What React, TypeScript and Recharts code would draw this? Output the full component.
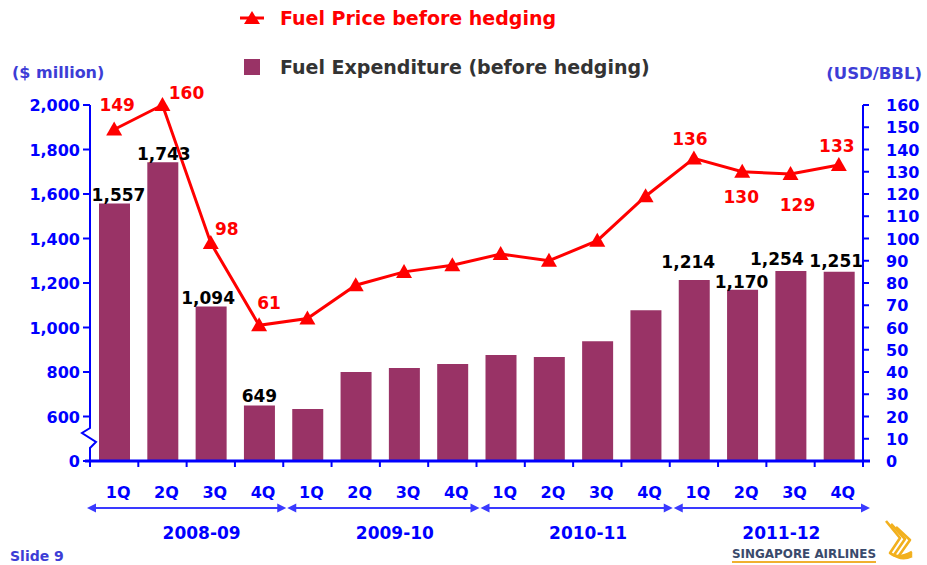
import { ComposedChart, Bar, Line, XAxis, YAxis, LabelList } from 'recharts'

const quarters = ['1Q', '2Q', '3Q', '4Q', '1Q', '2Q', '3Q', '4Q', '1Q', '2Q', '3Q', '4Q', '1Q', '2Q', '3Q', '4Q']
const fiscalYears = ['2008-09', '2009-10', '2010-11', '2011-12']
const expenditure = [1557, 1743, 1094, 649, 634, 800, 818, 836, 876, 867, 938, 1078, 1214, 1170, 1254, 1251]
const fuelPrice = [149, 160, 98, 61, 64, 79, 85, 88, 93, 90, 99, 119, 136, 130, 129, 133]
const labelled = [true, true, true, true, false, false, false, false, false, false, false, false, true, true, true, true]
const expenditureTicks = [0, 600, 800, 1000, 1200, 1400, 1600, 1800, 2000]
const priceTicks = [0, 10, 20, 30, 40, 50, 60, 70, 80, 90, 100, 110, 120, 130, 140, 150, 160]
const priceName = 'Fuel Price before hedging'
const expenditureName = 'Fuel Expenditure (before hedging)'

// left axis is broken between 0 and 600: the "0" tick sits where 400 would be
const BREAK_FLOOR = 400

const W = 927
const H = 565
const PLOT_LEFT = 90
const PLOT_RIGHT = 863
const PLOT_TOP = 105
const PLOT_BOTTOM = 461
const BAND = (PLOT_RIGHT - PLOT_LEFT) / quarters.length

const BLUE = '#0000ff'
const SOFT_BLUE = '#3d3dd6'
const RED = '#ff0000'
const PLUM = '#993366'
const FONT = '"DejaVu Sans", Verdana, sans-serif'

const data = quarters.map((q, i) => ({
  quarter: q,
  expenditure: expenditure[i],
  price: fuelPrice[i],
}))

const barLabelShift: Record<number, [number, number]> = {
  0: [4, -3], 1: [1, -2], 2: [-3, -3], 3: [0, -4],
  12: [-6, -12], 13: [-1, -2], 14: [-14, -6], 15: [-3, -5],
}
const priceLabelShift: Record<number, [number, number]> = {
  0: [3, -18], 1: [24, -6], 2: [16, -8], 3: [10, -16],
  12: [-4, -13], 13: [-1, 31], 14: [7, 37], 15: [-2, -13],
}

const ExpenditureTick = ({ x, y, payload }: any) => {
  const v = payload.value
  const text = v === BREAK_FLOOR ? '0' : v.toLocaleString('en-US')
  return (
    <g>
      <text x={x} y={y} dy={6} textAnchor="end" fill={BLUE} fontSize={16} fontWeight="bold" fontFamily={FONT}>
        {text}
      </text>
      {v === BREAK_FLOOR && (
        <g>
          <rect x={PLOT_LEFT - 3} y={y - 34} width={6} height={22} fill="#fff" />
          <polyline
            points={`${PLOT_LEFT},${y - 34} ${PLOT_LEFT},${y - 33} ${PLOT_LEFT - 8},${y - 28} ${PLOT_LEFT + 6},${y - 19} ${PLOT_LEFT},${y - 13} ${PLOT_LEFT},${y - 11}`}
            fill="none"
            stroke={BLUE}
            strokeWidth={2}
          />
        </g>
      )}
    </g>
  )
}

const PriceTick = ({ x, y, payload }: any) => (
  <text x={x} y={y} dy={6} textAnchor="start" fill={BLUE} fontSize={16} fontWeight="bold" fontFamily={FONT}>
    {payload.value}
  </text>
)

const QuarterTick = ({ x, payload, index }: any) => {
  const i = payload?.index ?? index
  const left = x - BAND / 2
  const g = Math.floor(i / 4)
  let group = null
  if (i % 4 === 0) {
    const end = left + BAND * 4
    const x1 = left + (g === 0 ? -3 : 4)
    const x2 = end + (g === fiscalYears.length - 1 ? 7 : 3)
    const ay = 508
    group = (
      <g>
        <line x1={x1 + 4} x2={x2 - 4} y1={ay} y2={ay} stroke="#3a3aff" strokeWidth={2} />
        <polygon points={`${x1},${ay} ${x1 + 9},${ay - 4.5} ${x1 + 9},${ay + 4.5}`} fill="#3a3aff" />
        <polygon points={`${x2},${ay} ${x2 - 9},${ay - 4.5} ${x2 - 9},${ay + 4.5}`} fill="#3a3aff" />
        <text x={(left + end) / 2 + 15} y={539} textAnchor="middle" fill={BLUE} fontSize={17} fontWeight="bold" fontFamily={FONT}>
          {fiscalYears[g]}
        </text>
      </g>
    )
  }
  return (
    <g>
      {i === 0 && <line x1={PLOT_LEFT - 5} x2={PLOT_RIGHT + 7} y1={PLOT_BOTTOM} y2={PLOT_BOTTOM} stroke={BLUE} strokeWidth={3} />}
      <line x1={left} x2={left} y1={PLOT_BOTTOM} y2={PLOT_BOTTOM + 6} stroke={BLUE} strokeWidth={2} />
      {i === quarters.length - 1 && (
        <line x1={left + BAND} x2={left + BAND} y1={PLOT_BOTTOM} y2={PLOT_BOTTOM + 6} stroke={BLUE} strokeWidth={2} />
      )}
      <text x={x + 4} y={498} textAnchor="middle" fill={BLUE} fontSize={16} fontWeight="bold" fontFamily={FONT}>
        {payload.value}
      </text>
      {group}
    </g>
  )
}

const Triangle = ({ cx, cy }: any) => {
  if (cx == null || cy == null) return null
  return <path d={`M${cx},${cy - 8}L${cx + 8},${cy + 6}L${cx - 8},${cy + 6}Z`} fill={RED} />
}

const BarValue = ({ x, y, width, value, index }: any) => {
  if (!labelled[index]) return null
  const [dx, dy] = barLabelShift[index] || [0, -4]
  return (
    <text x={x + width / 2 + dx} y={y + dy} textAnchor="middle" fill="#000" fontSize={17} fontWeight="bold" fontFamily={FONT}>
      {Number(value).toLocaleString('en-US')}
    </text>
  )
}

const PriceValue = ({ x, y, value, index }: any) => {
  if (!labelled[index]) return null
  const [dx, dy] = priceLabelShift[index] || [0, -12]
  return (
    <text x={x + dx} y={y + dy} textAnchor="middle" fill={RED} fontSize={17} fontWeight="bold" fontFamily={FONT}>
      {value}
    </text>
  )
}

const Overlay = () => (
  <svg width={W} height={H} style={{ position: 'absolute', left: 0, top: 0, pointerEvents: 'none' }} fontFamily={FONT}>
    {/* legend */}
    <line x1={240} x2={264} y1={18} y2={18} stroke={RED} strokeWidth={3} />
    <path d="M252,11L260,24L244,24Z" fill={RED} />
    <text x={280} y={25} fill={RED} fontSize={19} fontWeight="bold">{priceName}</text>
    <rect x={244} y={59} width={16} height={16} fill={PLUM} />
    <text x={280} y={74} fill="#333" fontSize={19} fontWeight="bold">{expenditureName}</text>

    {/* axis titles */}
    <text x={12} y={78} fill={SOFT_BLUE} fontSize={16} fontWeight="bold">($ million)</text>
    <text x={922} y={79} textAnchor="end" fill={SOFT_BLUE} fontSize={16.5} fontWeight="bold">(USD/BBL)</text>

    <text x={10} y={561} fill={SOFT_BLUE} fontSize={14} fontWeight="bold">Slide 9</text>

    {/* logo */}
    <text x={732} y={558} textLength={144} lengthAdjust="spacingAndGlyphs" fill="#3a4a6c" fontSize={13} fontWeight="bold">
      SINGAPORE AIRLINES
    </text>
    <line x1={732} x2={876} y1={562} y2={562} stroke="#f0b030" strokeWidth={2} />
    {[0, 1, 2].map((k) => (
      <path
        key={k}
        d={`M${886 + k * 5},${521 + k * 3} L${900 + k * 5},${538 + k * 1} L${890 + k * 4},${553 + k * 2} Q${898 + k * 3},${560} ${912},${552 + k * 2}`}
        fill="none"
        stroke="#f2b01e"
        strokeWidth={2.6}
        strokeLinejoin="round"
      />
    ))}
  </svg>
)

export default function App() {
  return (
    <div style={{ position: 'absolute', left: 0, top: 0, width: W, height: H, background: '#fff' }}>
      <ComposedChart
        width={W}
        height={H}
        data={data}
        margin={{ top: PLOT_TOP, right: W - PLOT_RIGHT - 60, bottom: H - PLOT_BOTTOM - 30, left: 0 }}
      >
        <XAxis
          dataKey="quarter"
          height={30}
          interval={0}
          axisLine={false}
          tickLine={false}
          tick={<QuarterTick />}
        />
        <YAxis
          yAxisId="left"
          width={PLOT_LEFT}
          domain={[BREAK_FLOOR, 2000]}
          ticks={expenditureTicks.map((t) => (t === 0 ? BREAK_FLOOR : t))}
          axisLine={{ stroke: BLUE, strokeWidth: 2 }}
          tickLine={{ stroke: BLUE, strokeWidth: 2 }}
          tickSize={7}
          tickMargin={3}
          tick={<ExpenditureTick />}
          interval={0}
        />
        <YAxis
          yAxisId="right"
          orientation="right"
          width={60}
          domain={[0, 160]}
          ticks={priceTicks}
          axisLine={{ stroke: BLUE, strokeWidth: 2 }}
          tickLine={{ stroke: BLUE, strokeWidth: 2 }}
          tickSize={6}
          tickMargin={17}
          tick={<PriceTick />}
          interval={0}
        />
        <Bar yAxisId="left" dataKey="expenditure" name={expenditureName} fill={PLUM} barSize={31} isAnimationActive={false}>
          <LabelList dataKey="expenditure" content={<BarValue />} />
        </Bar>
        <Line
          yAxisId="right"
          dataKey="price"
          name={priceName}
          stroke={RED}
          strokeWidth={3}
          dot={<Triangle />}
          activeDot={false}
          isAnimationActive={false}
        >
          <LabelList dataKey="price" content={<PriceValue />} />
        </Line>
      </ComposedChart>
      <Overlay />
    </div>
  )
}
